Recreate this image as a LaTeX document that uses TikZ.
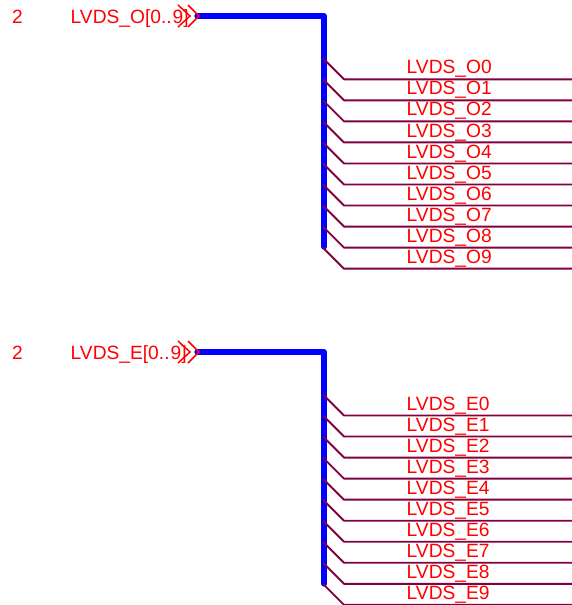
\documentclass[tikz,border=0pt]{standalone}
\usepackage{fontspec}
\setmainfont{Liberation Sans}
\definecolor{wire}{RGB}{128,0,64}
\definecolor{busblue}{RGB}{0,0,255}
\definecolor{lab}{RGB}{255,0,0}
\tikzset{
  bus/.style={draw=busblue,line width=5.2pt,line join=round,line cap=round},
  wirenet/.style={draw=wire,line width=1.9pt,line join=round},
  chev/.style={draw=lab,line width=1.5pt},
  lbl/.style={text=lab,font=\fontsize{19.2}{21}\selectfont,inner sep=0pt,anchor=base west},
}
\begin{document}
\begin{tikzpicture}[x=1pt,y=-1pt]
\useasboundingbox (0,0) rectangle (572,605);
\fill[white] (0,0) rectangle (572,605);
\newcommand{\group}[5]{%
  % #1 tag, #2 bus y, #3 first wire y, #4 letter, #5 bus end y
  \node[lbl] (num#1) at (12,#2+7.3) {2};
  \node[lbl] (name#1) at (70.5,#2+7.3) {LVDS\_#4[0..\kern1pt 9]};
  \coordinate (busstart#1) at (197,#2);
  \coordinate (buscorner#1) at (324,#2);
  \coordinate (busend#1) at (324,#5);
  \draw[bus] (busstart#1) -- (buscorner#1) -- (busend#1);
  \draw[chev] (178,#2-11) -- (190,#2) -- (178,#2+11);
  \draw[chev] (188,#2-11) -- (199,#2) -- (188,#2+11);
  \foreach \i in {0,...,9}{
    \pgfmathsetmacro{\yy}{#3+21.04*\i}
    \coordinate (entry#1\i) at (323,\yy-21);
    \coordinate (knee#1\i) at (344,\yy);
    \coordinate (end#1\i) at (572,\yy);
    \draw[wirenet] (entry#1\i) -- (knee#1\i) -- (end#1\i);
    \node[lbl] (lab#1\i) at (406.5,\yy-5.4) {LVDS\_#4\i};
  }
}
\group{a}{16}{79.3}{O}{247}
\group{b}{352}{415.5}{E}{584}
\end{tikzpicture}
\end{document}
